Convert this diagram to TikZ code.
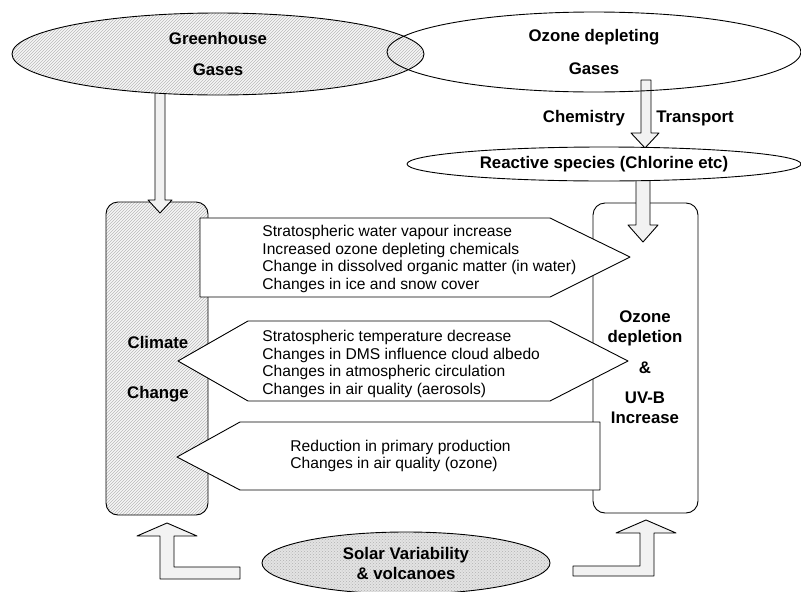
\documentclass[tikz,border=0pt]{standalone}
\usepackage{fontspec}
\setmainfont{Liberation Sans}
\usetikzlibrary{shapes.geometric,patterns}

\begin{document}
\begin{tikzpicture}[x=1pt, y=-1pt, line width=0.9pt, line join=round,
		hatched/.style={preaction={fill=gray!6}, pattern=north east lines, pattern color=gray!55},
		stipple/.style={preaction={fill=gray!22}, pattern=crosshatch dots, pattern color=gray!60},
		blockarrow/.style={draw, fill=gray!10},
		headtxt/.style={font=\fontsize{16.8}{20}\selectfont\bfseries, align=center, inner sep=0pt},
		boxtxt/.style={font=\fontsize{15.6}{17.7}\selectfont, align=left, inner sep=0pt, anchor=west}]

	\useasboundingbox (0,0) rectangle (801,592);

	\node[draw, hatched, rounded corners=12pt, minimum width=102pt, minimum height=313pt, inner sep=0pt] (climate) at (157,358.5) {};
	\node[draw, fill=white, rounded corners=12pt, minimum width=105pt, minimum height=310pt, inner sep=0pt] (ozone) at (645.5,358) {};

	\draw[blockarrow] (155,80) -- (155,200) -- (148,200) -- (160,213) -- (172,200) -- (165,200) -- (165,80) -- cycle;
	\draw[blockarrow] (641,80) -- (641,133) -- (631,133) -- (645,148) -- (659,133) -- (651,133) -- (651,80) -- cycle;
	\draw[blockarrow] (636,175) -- (636,225) -- (628,225) -- (643,242) -- (658,225) -- (650,225) -- (650,175) -- cycle;

	\draw[blockarrow] (167,523) -- (197,536) -- (174,536) -- (174,567) -- (240,567) -- (240,579) -- (160,579) -- (160,536) -- (137,536) -- cycle;
	\draw[blockarrow] (646,520) -- (676,533) -- (654,533) -- (654,576) -- (573,576) -- (573,566) -- (640,566) -- (640,533) -- (616,533) -- cycle;

	\node[ellipse, draw, hatched, minimum width=412pt, minimum height=82pt, headtxt] (ghg) at (218,54) {Greenhouse\\[11pt]Gases};
	\node[ellipse, draw, minimum width=414pt, minimum height=80pt, headtxt] (odg) at (594,52) {Ozone depleting\\[13pt]Gases};
	\node[ellipse, draw, fill=white, minimum width=394pt, minimum height=34pt, headtxt] (reactive) at (604,164) {Reactive species (Chlorine etc)};
	\node[ellipse, draw, stipple, minimum width=288pt, minimum height=62pt, headtxt] (solar) at (406,563) {Solar Variability\\\& volcanoes};

	\node[headtxt] (chem) at (584,118) {Chemistry};
	\node[headtxt] (transp) at (695,118) {Transport};

	\draw[fill=white] (200,218) -- (550,218) -- (630,257) -- (550,297) -- (200,297) -- cycle;
	\draw[fill=white] (178,361) -- (248,321) -- (550,321) -- (628,361) -- (550,401) -- (248,401) -- cycle;
	\draw[fill=white] (177,457) -- (240,422) -- (600,422) -- (600,490) -- (240,490) -- cycle;

	\node[boxtxt] (water) at (262,259) {Stratospheric water vapour increase\\Increased ozone depleting chemicals\\Change in dissolved organic matter (in water)\\Changes in ice and snow cover};
	\node[boxtxt] (temp) at (262,364) {Stratospheric temperature decrease\\Changes in DMS influence cloud albedo\\Changes in atmospheric circulation\\Changes in air quality (aerosols)};
	\node[boxtxt] (prod) at (290,456) {Reduction in primary production\\Changes in air quality (ozone)};

	\node[headtxt] (cctxt) at (158,369) {Climate\\[30pt]Change};
	\node[headtxt] (odtxt) at (645,367) {Ozone\\depletion\\[11pt]\&\\[10pt]UV-B\\Increase};

\end{tikzpicture}
\end{document}
